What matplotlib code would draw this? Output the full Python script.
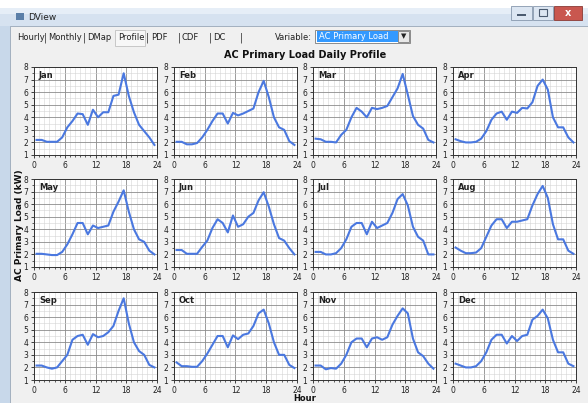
import numpy as np
import matplotlib
matplotlib.use('Agg')
import matplotlib.pyplot as plt
from matplotlib.patches import Rectangle
from matplotlib.ticker import MultipleLocator

#------------------------------------------------
#   DATA  (hourly average load, kW)
#------------------------------------------------

hours = np.arange(24) + 0.5
months = ['Jan', 'Feb', 'Mar', 'Apr', 'May', 'Jun',
          'Jul', 'Aug', 'Sep', 'Oct', 'Nov', 'Dec']

jan = [2.2, 2.2, 2.05, 2.05, 2.05, 2.4, 3.2, 3.7, 4.3, 4.25, 3.4, 4.6, 4.0, 4.4, 4.4, 5.7, 5.8, 7.5, 5.7, 4.4, 3.4, 2.9, 2.4, 1.8]
feb = [2.05, 2.05, 1.85, 1.85, 1.95, 2.4, 3.0, 3.7, 4.3, 4.3, 3.5, 4.35, 4.15, 4.3, 4.5, 4.7, 6.0, 6.9, 5.6, 4.0, 3.2, 3.0, 2.1, 1.8]
mar = [2.3, 2.25, 2.05, 2.05, 2.0, 2.6, 3.0, 4.0, 4.75, 4.45, 4.0, 4.75, 4.65, 4.75, 4.9, 5.6, 6.3, 7.45, 5.8, 4.1, 3.4, 3.1, 2.2, 2.0]
apr = [2.25, 2.1, 2.0, 2.0, 2.05, 2.3, 2.9, 3.8, 4.3, 4.45, 3.8, 4.45, 4.35, 4.75, 4.7, 5.2, 6.5, 7.0, 6.2, 4.0, 3.2, 3.2, 2.4, 2.0]
may = [2.05, 2.05, 2.0, 1.95, 1.95, 2.2, 2.8, 3.6, 4.5, 4.5, 3.6, 4.3, 4.1, 4.2, 4.3, 5.4, 6.2, 7.1, 5.4, 4.0, 3.2, 3.0, 2.3, 2.0]
jun = [2.35, 2.35, 2.05, 2.05, 2.05, 2.6, 3.1, 4.1, 4.8, 4.5, 3.75, 5.1, 4.2, 4.4, 5.0, 5.3, 6.3, 6.95, 5.8, 4.4, 3.3, 3.1, 2.5, 2.0]
jul = [2.2, 2.2, 2.0, 2.0, 2.1, 2.5, 3.2, 4.2, 4.5, 4.5, 3.6, 4.6, 4.1, 4.3, 4.5, 5.3, 6.4, 6.8, 5.9, 4.2, 3.4, 3.1, 2.0, 2.0]
aug = [2.55, 2.3, 2.1, 2.1, 2.15, 2.5, 3.4, 4.3, 4.8, 4.8, 4.1, 4.6, 4.6, 4.7, 4.8, 5.9, 6.8, 7.45, 6.5, 4.4, 3.2, 3.2, 2.3, 2.05]
sep = [2.15, 2.15, 2.0, 1.9, 2.0, 2.5, 3.0, 4.2, 4.5, 4.6, 3.8, 4.65, 4.4, 4.5, 4.8, 5.3, 6.5, 7.5, 5.5, 4.0, 3.3, 3.0, 2.2, 2.0]
oct_ = [2.4, 2.1, 2.1, 2.05, 2.05, 2.5, 3.1, 3.8, 4.5, 4.5, 3.6, 4.55, 4.25, 4.6, 4.7, 5.3, 6.3, 6.6, 5.5, 4.0, 3.0, 3.0, 2.2, 1.95]
nov = [2.15, 2.15, 1.85, 1.95, 1.9, 2.3, 3.0, 4.0, 4.3, 4.3, 3.6, 4.3, 4.4, 4.2, 4.4, 5.4, 6.1, 6.7, 6.3, 4.3, 3.2, 2.9, 2.3, 1.9]
dec = [2.3, 2.15, 2.0, 2.0, 2.1, 2.5, 3.2, 4.2, 4.6, 4.6, 3.9, 4.5, 4.1, 4.5, 4.6, 5.8, 6.1, 6.6, 5.9, 4.2, 3.2, 3.2, 2.3, 2.1]

profiles = [jan, feb, mar, apr, may, jun, jul, aug, sep, oct_, nov, dec]

tabs = ['Hourly', 'Monthly', 'DMap', 'Profile', 'PDF', 'CDF', 'DC']
tab_x = [17, 48, 87, 118, 151, 182, 213]

#------------------------------------------------
#   FIGURE / WINDOW
#------------------------------------------------

W, H = 588, 403
fig = plt.figure(figsize=(W / 100, H / 100), dpi=100)
fig.patch.set_facecolor('white')


def box(l, t, w, h):
    # pixel box (from top-left) -> figure fraction
    return [l / W, 1 - (t + h) / H, w / W, h / H]


def rect(l, t, w, h, fc, ec='none', lw=0.6, z=0):
    b = box(l, t, w, h)
    fig.add_artist(Rectangle((b[0], b[1]), b[2], b[3], transform=fig.transFigure,
                             facecolor=fc, edgecolor=ec, linewidth=lw, zorder=z))


def ftext(x, y, s, **kw):
    fig.text(x / W, 1 - y / H, s, **kw)


# window frame
rect(0, 8, W, H, '#c8d8ea')
rect(10, 26, W - 10, H, '#f0f0f0', ec='#9aa8b8')
# title bar
rect(0, 8, W, 18, '#d6e2f0')
rect(0, 8, W, 6, '#e6eef7')
rect(16, 13, 8, 7, '#5b7fa8')
ftext(28, 17, 'DView', fontsize=6.5, va='center', color='#222222')
# caption buttons
rect(511, 6, 21, 14, '#dce6f2', ec='#8798ad')
rect(533, 6, 20, 14, '#dce6f2', ec='#8798ad')
rect(554, 6, 28, 14, '#c9574f', ec='#8a3a35')
ftext(568, 13, 'x', fontsize=7, ha='center', va='center', color='white', weight='bold')
rect(517, 14, 9, 2, '#4b5b70')
rect(539, 9, 8, 7, 'none', ec='#4b5b70', lw=0.8)

# tab strip
rect(115, 30, 30, 16, '#f7f7f7', ec='#c0c0c0')
for name, x in zip(tabs, tab_x):
    ftext(x, 38, name, fontsize=6, va='center', color='#222222')
for x in [44, 83, 146, 178, 209, 240]:
    ftext(x, 38, '|', fontsize=7, va='center', color='#333333')

ftext(312, 37, 'Variable:', fontsize=6, ha='right', va='center', color='#222222')
rect(315, 30, 95, 13, 'white', ec='#7a7a7a')
rect(317, 31, 81, 11, '#3399ff')
ftext(319, 36.5, 'AC Primary Load', fontsize=6, va='center', color='white')
rect(398, 31, 11, 11, '#e8e8e8', ec='#7a7a7a')
ftext(403.5, 36.5, '\u25BC', fontsize=5, ha='center', va='center', color='#222222')

ftext(305, 55, 'AC Primary Load Daily Profile', fontsize=7, weight='bold',
      ha='center', va='center', color='#111111')

#------------------------------------------------
#   PANELS
#------------------------------------------------

col_left = [34, 174, 313, 453]
row_top = [67, 179, 292]
ax_w, ax_h = 123, 88

for i, (name, y) in enumerate(zip(months, profiles)):
    r, c = divmod(i, 4)
    ax = fig.add_axes(box(col_left[c], row_top[r], ax_w, ax_h))
    ax.set_facecolor('white')
    ax.plot(hours, y, color='#4a78e0', linewidth=1.5, zorder=3)
    ax.set_xlim(0, 24)
    ax.set_ylim(1, 8)
    ax.xaxis.set_major_locator(MultipleLocator(6))
    ax.xaxis.set_minor_locator(MultipleLocator(1))
    ax.yaxis.set_major_locator(MultipleLocator(1))
    ax.yaxis.set_minor_locator(MultipleLocator(0.5))
    ax.grid(which='major', color='#8c8c8c', linewidth=0.6)
    ax.grid(which='minor', color='#d4d4d4', linewidth=0.4)
    ax.set_axisbelow(True)
    ax.tick_params(which='major', labelsize=5.5, length=2.5, width=0.6, pad=1.5, colors='#222222')
    ax.tick_params(which='minor', length=1.3, width=0.5, colors='#222222')
    for s in ax.spines.values():
        s.set_color('#333333')
        s.set_linewidth(0.7)
    ax.text(0.04, 0.95, name, transform=ax.transAxes, fontsize=6, weight='bold',
            ha='left', va='top', color='#222222')

ftext(20, 225, 'AC Primary Load (kW)', fontsize=6.5, weight='bold', rotation=90,
      ha='center', va='center', color='#111111')
ftext(305, 398.5, 'Hour', fontsize=6, weight='bold', ha='center', va='center', color='#111111')

fig.savefig('out.png', dpi=100, facecolor=fig.get_facecolor())
